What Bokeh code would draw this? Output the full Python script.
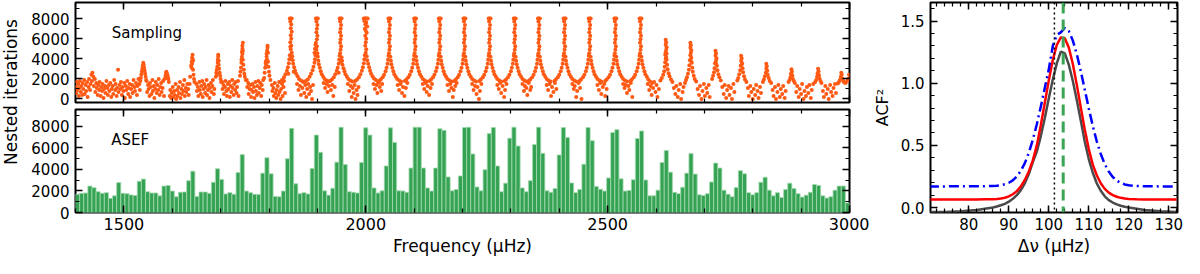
import numpy as np
from bokeh.plotting import figure
from bokeh.models import (Range1d, LinearAxis, SingleIntervalTicker, Label, Span,
                          PrintfTickFormatter, CustomJSTickFormatter)
from bokeh.layouts import row, column
from bokeh.embed import file_html
from bokeh.resources import INLINE

FONT = "DejaVu Sans"

# ---------------- data ----------------
freq_start, freq_end = 1400, 3000

# ASEF histogram (nested iterations per frequency bin), 188 bins 1400-3000 uHz
asef_iterations = [
    1690, 1780, 1810, 2450, 2300, 1930, 1780, 1840, 1310, 1550, 2770, 1780,
    1750, 1630, 1580, 2890, 3100, 1930, 1810, 1810, 1550, 2450, 2510, 1990,
    1460, 1870, 1900, 2950, 3830, 1490, 1900, 1900, 1780, 2800, 4060, 3070,
    1720, 1840, 1690, 3710, 5370, 1990, 1840, 1690, 1660, 3650, 5080, 3590,
    1490, 1460, 1990, 4990, 7800, 2660, 1750, 1840, 1720, 4090, 7180, 5580,
    2010, 1610, 2250, 4670, 7910, 4440, 1930, 1870, 1810, 4640, 7850, 7180,
    2280, 1810, 2010, 4320, 7850, 6500, 2010, 1990, 1870, 4120, 7910, 7910,
    4120, 2280, 1990, 4120, 7770, 7620, 3300, 2010, 2130, 3390, 7880, 7910,
    5430, 2370, 2010, 3970, 7330, 7880, 4320, 1930, 2720, 6890, 7910, 6160,
    2280, 1930, 2950, 6310, 7910, 5490, 2010, 1870, 2220, 5340, 7880, 6950,
    2740, 1840, 2130, 4470, 7880, 6660, 2420, 2160, 1990, 3210, 7420, 7680,
    3120, 1990, 2040, 3040, 6860, 7560, 3010, 1550, 1550, 2070, 4640, 5750,
    3740, 1870, 1750, 2340, 3650, 5460, 3560, 1640, 1580, 1750, 2830, 4580,
    4120, 2070, 1690, 1460, 2310, 3880, 3590, 1840, 1640, 1840, 2800, 3270,
    2070, 1550, 1840, 1400, 2130, 2720, 2220, 1750, 1430, 1610, 1870, 2600,
    2510, 1550, 1340, 1460, 2070, 2450, 2450, 880,
]

# Sampling: (frequency, nested iterations) points
samp_background = [
    (1401,1200),(1402,600),(1403,1700),(1404,900),(1406,1500),(1407,300),(1408,1100),(1409,1800),
    (1411,700),(1412,1300),(1414,400),(1415,1600),(1416,1000),(1418,1900),(1419,500),(1421,1400),
    (1422,800),(1424,1700),(1425,200),(1427,1200),(1428,2000),(1430,900),(1431,1500),(1433,2400),
    (1434,1800),(1435,2600),(1437,2200),(1438,1300),(1440,2000),(1441,700),(1443,1600),(1444,1100),
    (1446,400),(1447,1400),(1449,900),(1450,1700),(1452,300),(1453,1200),(1455,800),(1456,1500),
    (1458,100),(1459,1000),(1461,1300),(1462,600),(1464,1800),(1466,1100),(1467,400),(1469,1400),
    (1470,800),(1472,1600),(1474,200),(1475,1000),(1477,1300),(1478,500),(1480,1900),(1482,900),
    (1483,1500),(1485,300),(1486,1100),(1488,2900),(1489,700),(1491,1400),(1493,1000),(1494,1700),
    (1496,400),(1497,1200),(1499,800),(1501,1600),(1502,100),(1504,1300),(1505,900),(1507,1800),
    (1509,500),(1510,1100),(1512,1500),(1513,200),(1515,1000),(1517,1400),(1518,600),(1520,1900),
    (1522,1200),(1523,800),(1525,1600),(1527,400),(1528,1300),(1530,2000),(1532,1500),(1533,900),
    (1547,1800),(1548,700),(1550,1400),(1551,1000),(1553,300),(1554,1600),(1556,1200),(1557,500),
    (1559,1900),(1560,800),(1562,1300),(1563,100),(1565,1000),(1566,1700),(1568,600),(1569,1400),
    (1571,900),(1572,2000),(1574,400),(1575,1200),(1577,1600),(1578,700),(1580,1100),(1581,1800),
    (1583,300),(1595,300),(1596,900),(1598,100),(1599,600),(1601,1200),(1602,200),(1604,800),
    (1605,400),(1607,1500),(1608,0),(1610,900),(1611,300),(1613,1200),(1614,600),(1616,1700),
    (1617,100),(1619,1000),(1620,500),(1622,1400),(1623,800),(1625,1900),(1626,300),(1628,1100),
    (1629,700),(1631,1500),(1633,1000),(1634,400),(1650,1500),(1651,800),(1653,1200),(1654,300),
    (1656,1700),(1657,900),(1659,500),(1660,1300),(1662,1800),(1663,200),(1665,1000),(1666,1500),
    (1668,600),(1669,1200),(1671,1900),(1672,400),(1674,900),(1675,1400),(1677,100),(1678,1100),
    (1680,1600),(1681,700),(1683,1300),(1684,1900),(1686,500),(1687,1000),(1703,1700),(1704,1000),
    (1706,1400),(1707,500),(1709,1200),(1710,1800),(1712,800),(1713,300),(1715,1500),(1716,1000),
    (1718,1700),(1719,200),(1721,1300),(1722,700),(1724,1900),(1725,1100),(1727,400),(1728,1500),
    (1730,900),(1731,1700),(1733,600),(1734,1200),(1736,1800),(1737,300),(1754,1900),(1755,1200),
    (1757,1600),(1758,500),(1760,1000),(1761,1400),(1763,200),(1764,900),(1766,1500),(1767,700),
    (1769,1200),(1770,100),(1772,1700),(1773,800),(1775,400),(1776,1300),(1778,1800),(1779,600),
    (1781,1100),(1782,1600),(1784,300),(1785,1400),(1787,900),(1788,1900),(1806,1400),(1807,800),
    (1809,1100),(1810,300),(1812,1600),(1813,600),(1815,100),(1816,900),(1818,1300),(1819,400),
    (1821,1700),(1822,700),(1824,0),(1825,1000),(1827,1500),(1828,300),(1830,1200),(1831,1800),
    (1833,600),
]

samp_small_peaks = [
    (1536,2400),(1537,2700),(1538,3000),(1539,3300),(1540,3600),(1541,3400),(1542,3100),(1543,2800),
    (1544,2500),(1545,2200),(1535,2100),(1539,2800),(1541,2900),(1546,1900),(1534,1800),
    (1584,2000),(1586,2300),(1587,2600),(1588,2700),(1589,2500),(1590,2400),(1591,2200),(1592,2000),
    (1593,1700),(1589,2100),
    (1639,3300),(1640,3700),(1641,4100),(1642,4400),(1642,4000),(1641,3500),(1643,3800),(1640,3100),
    (1643,2900),(1644,2400),(1645,2000),(1637,2200),(1646,1700),(1636,1500),
    (1690,2200),(1691,2600),(1692,2900),(1693,3200),(1694,3600),(1694,3900),(1695,4200),(1695,4400),
    (1696,3800),(1696,3400),(1697,3000),(1698,2600),(1699,2300),(1700,2000),(1701,1700),(1692,2400),
    (1740,2300),(1741,2700),(1742,3100),(1743,3600),(1744,4200),(1744,4700),(1745,5000),(1745,5300),
    (1746,5600),(1745,4500),(1746,3900),(1747,3400),(1748,2900),(1749,2500),(1750,2200),(1752,1900),
    (1743,3900),(1746,4800),
    (1790,2100),(1791,2600),(1792,3100),(1793,3600),(1794,3800),(1795,4200),(1795,4500),(1796,4800),
    (1797,5100),(1797,5300),(1796,3900),(1798,4600),(1798,3700),(1799,3200),(1800,2700),(1801,2300),
    (1803,1900),(1794,3400),
]

samp_big_peaks = [
    # ~1846
    (1843,8000),(1845,8000),(1847,8000),(1844,7700),(1846,7400),(1845,7050),(1847,6700),(1845,6350),
    (1846,6000),(1844,5650),(1846,5300),(1845,4950),(1847,4600),(1848,4250),(1849,3850),(1850,3500),
    (1852,3150),(1854,2800),(1856,2500),(1859,2250),(1862,2000),(1866,1850),(1870,1750),(1843,4350),
    (1842,3950),(1841,3550),(1839,3150),(1837,2800),(1834,2450),(1831,2150),(1827,1900),(1823,1700),
    (1844,5200),(1846,4100),(1851,2700),(1840,2500),
    # ~1899
    (1897,8000),(1899,8000),(1901,8000),(1898,7700),(1900,7350),(1899,7000),(1898,6650),(1900,6300),
    (1899,5950),(1897,5600),(1899,5250),(1898,4900),(1900,4550),(1901,4200),(1902,3800),(1903,3450),
    (1905,3100),(1907,2750),(1909,2450),(1912,2200),(1915,2000),(1919,1850),(1923,1750),(1896,4350),
    (1895,3950),(1894,3600),(1892,3200),(1890,2850),(1887,2500),(1884,2200),(1880,1950),(1876,1800),
    (1895,5000),(1896,5400),(1894,4600),(1897,4400),
    # ~1948
    (1946,8000),(1948,8000),(1950,8000),(1947,7700),(1949,7350),(1948,7000),(1947,6650),(1949,6300),
    (1948,5950),(1947,5600),(1949,5250),(1948,4900),(1947,4550),(1950,4150),(1951,3800),(1952,3400),
    (1954,3050),(1956,2750),(1958,2450),(1961,2200),(1964,2000),(1968,1850),(1972,1750),(1946,4300),
    (1945,3900),(1944,3500),(1942,3100),(1940,2800),(1937,2450),(1934,2150),(1930,1950),(1926,1800),
    (1949,3700),(1944,2600),
    # ~2000
    (1996,8000),(1998,8000),(2000,8000),(2002,8000),(2004,8000),(1997,7750),(2001,7600),(1999,7400),
    (2003,7200),(1998,7000),(2000,6800),(2002,6600),(1999,6300),(2001,6000),(2000,5650),(1999,5300),
    (2001,4950),(2000,4600),(2002,4250),(2003,3850),(2005,3500),(2007,3150),(2009,2800),(2011,2500),
    (2014,2250),(2017,2050),(2021,1900),(2025,1750),(1998,4350),(1997,3950),(1996,3550),(1994,3150),
    (1992,2800),(1989,2450),(1986,2150),(1982,1950),(1978,1800),
    # ~2049
    (2047,8000),(2049,8000),(2051,8000),(2048,7700),(2050,7350),(2049,7000),(2048,6650),(2050,6300),
    (2049,5950),(2048,5600),(2050,5250),(2049,4900),(2048,4550),(2051,4200),(2052,3800),(2053,3450),
    (2055,3100),(2057,2750),(2059,2450),(2062,2200),(2065,2000),(2069,1850),(2073,1750),(2047,4300),
    (2046,3900),(2045,3500),(2043,3100),(2041,2750),(2038,2400),(2035,2150),(2031,1950),(2028,1800),
    # ~2102
    (2100,8000),(2102,8000),(2104,8000),(2101,7700),(2103,7350),(2102,7000),(2101,6650),(2103,6300),
    (2102,5950),(2101,5600),(2103,5250),(2102,4900),(2101,4550),(2104,4200),(2105,3800),(2106,3450),
    (2108,3100),(2110,2750),(2112,2450),(2115,2200),(2118,2000),(2122,1850),(2126,1750),(2100,4300),
    (2099,3900),(2098,3500),(2096,3100),(2094,2750),(2091,2400),(2088,2150),(2084,1950),(2081,1800),
    # ~2153
    (2151,8000),(2153,8000),(2155,8000),(2152,7700),(2154,7350),(2153,7000),(2152,6650),(2154,6300),
    (2153,5950),(2152,5600),(2154,5250),(2153,4900),(2152,4550),(2155,4200),(2156,3800),(2157,3450),
    (2159,3100),(2161,2750),(2163,2450),(2166,2200),(2169,2000),(2173,1850),(2177,1750),(2151,4300),
    (2150,3900),(2149,3500),(2147,3100),(2145,2750),(2142,2400),(2139,2150),(2135,1950),(2132,1800),
    # ~2204
    (2202,8000),(2204,8000),(2206,8000),(2203,7700),(2205,7350),(2204,7000),(2203,6650),(2205,6300),
    (2204,5950),(2203,5600),(2205,5250),(2204,4900),(2203,4550),(2206,4200),(2207,3800),(2208,3450),
    (2210,3100),(2212,2750),(2214,2450),(2217,2200),(2220,2000),(2224,1850),(2228,1750),(2202,4300),
    (2201,3900),(2200,3500),(2198,3100),(2196,2750),(2193,2400),(2190,2150),(2186,1950),(2183,1800),
    # ~2256
    (2254,8000),(2256,8000),(2258,8000),(2255,7700),(2257,7350),(2256,7000),(2255,6650),(2257,6300),
    (2256,5950),(2255,5600),(2257,5250),(2256,4900),(2255,4550),(2258,4200),(2259,3800),(2260,3450),
    (2262,3100),(2264,2750),(2266,2450),(2269,2200),(2272,2000),(2276,1850),(2280,1750),(2254,4300),
    (2253,3900),(2252,3500),(2250,3100),(2248,2750),(2245,2400),(2242,2150),(2238,1950),(2235,1800),
    # ~2308
    (2306,8000),(2308,8000),(2310,8000),(2307,7700),(2309,7350),(2308,7000),(2307,6650),(2309,6300),
    (2308,5950),(2307,5600),(2309,5250),(2308,4900),(2307,4550),(2310,4200),(2311,3800),(2312,3450),
    (2314,3100),(2316,2750),(2318,2450),(2321,2200),(2324,2000),(2328,1850),(2332,1750),(2306,4300),
    (2305,3900),(2304,3500),(2302,3100),(2300,2750),(2297,2400),(2294,2150),(2290,1950),(2287,1800),
    # ~2358
    (2356,8000),(2358,8000),(2360,8000),(2357,7700),(2359,7350),(2358,7000),(2357,6650),(2359,6300),
    (2358,5950),(2357,5600),(2359,5250),(2358,4900),(2357,4550),(2360,4200),(2361,3800),(2362,3450),
    (2364,3100),(2366,2750),(2368,2450),(2371,2200),(2374,2000),(2378,1850),(2382,1750),(2356,4300),
    (2355,3900),(2354,3500),(2352,3100),(2350,2750),(2347,2400),(2344,2150),(2340,1950),(2337,1800),
    # ~2411
    (2409,8000),(2411,8000),(2413,8000),(2410,7700),(2412,7350),(2411,7000),(2410,6650),(2412,6300),
    (2411,5950),(2410,5600),(2412,5250),(2411,4900),(2410,4550),(2413,4200),(2414,3800),(2415,3450),
    (2417,3100),(2419,2750),(2421,2450),(2424,2200),(2427,2000),(2431,1850),(2435,1750),(2409,4300),
    (2408,3900),(2407,3500),(2405,3100),(2403,2750),(2400,2400),(2397,2150),(2393,1950),(2390,1800),
    # ~2463
    (2461,8000),(2463,8000),(2465,8000),(2462,7700),(2464,7350),(2463,7000),(2462,6650),(2464,6300),
    (2463,5950),(2462,5600),(2464,5250),(2463,4900),(2462,4550),(2465,4200),(2466,3800),(2467,3450),
    (2469,3100),(2471,2750),(2473,2450),(2476,2200),(2479,2000),(2483,1850),(2487,1750),(2461,4300),
    (2460,3900),(2459,3500),(2457,3100),(2455,2750),(2452,2400),(2449,2150),(2445,1950),(2442,1800),
    # ~2516
    (2514,8000),(2516,8000),(2518,8000),(2515,7700),(2517,7350),(2516,7000),(2515,6650),(2517,6300),
    (2516,5950),(2515,5600),(2517,5250),(2516,4900),(2515,4550),(2518,4200),(2519,3800),(2520,3450),
    (2522,3100),(2524,2750),(2526,2450),(2529,2200),(2532,2000),(2536,1850),(2540,1750),(2514,4300),
    (2513,3900),(2512,3500),(2510,3100),(2508,2750),(2505,2400),(2502,2150),(2498,1950),(2495,1800),
    # ~2568
    (2566,8000),(2568,8000),(2570,8000),(2567,7700),(2569,7350),(2568,7000),(2567,6650),(2569,6300),
    (2568,5950),(2567,5600),(2569,5250),(2568,4900),(2567,4550),(2570,4200),(2571,3800),(2572,3450),
    (2574,3100),(2576,2750),(2578,2450),(2581,2200),(2584,1950),(2588,1750),(2592,1600),(2566,4300),
    (2565,3900),(2564,3500),(2562,3100),(2560,2750),(2557,2400),(2554,2150),(2550,1950),(2547,1800),
]

samp_troughs = [
    (1858,1500),(1861,900),(1864,1300),(1866,400),(1869,1100),(1871,1700),(1873,600),(1875,1400),
    (1877,200),(1879,1000),(1881,1500),(1883,500),(1885,1200),(1887,800),(1889,0),(1891,1400),
    (1913,1600),(1916,1100),(1919,1500),(1921,700),(1924,1300),(1926,1800),(1928,900),(1931,1400),
    (1933,300),(1936,1200),
    (1963,1500),(1966,800),(1969,1300),(1971,200),(1973,1100),(1975,600),(1977,1400),(1979,0),
    (1981,900),(1983,400),(1985,1200),
    (2016,1500),(2019,1000),(2022,1400),(2024,600),(2027,1600),(2029,1200),(2032,800),(2034,1500),
    (2066,1400),(2069,900),(2072,1500),(2075,600),(2077,1200),(2080,300),(2083,1100),(2086,1600),
    (2118,1500),(2121,1000),(2124,1600),(2126,700),(2128,1300),(2131,400),(2134,1100),(2137,1500),
    (2169,1400),(2172,800),(2175,1500),(2177,1100),(2180,200),(2182,900),(2185,1300),(2188,1600),
    (2220,1500),(2223,900),(2226,1300),(2229,500),(2231,1200),(2234,0),(2236,800),(2239,1500),
    (2272,1400),(2275,1000),(2278,1600),(2280,600),(2283,1300),(2286,200),(2288,900),(2291,1500),
    (2324,1500),(2327,800),(2329,1300),(2332,1100),(2334,400),(2337,1600),(2340,900),(2342,1200),
    (2374,1400),(2377,900),(2380,1500),(2383,300),(2385,1200),(2388,700),(2391,1600),(2394,1000),
    (2427,1500),(2430,1000),(2432,1300),(2435,200),(2437,800),(2440,1600),(2443,1100),(2446,0),
    (2479,1400),(2482,900),(2485,1600),(2487,500),(2490,1200),(2493,1500),(2495,300),(2498,1000),
    (2532,1500),(2535,1100),(2537,1400),(2540,600),(2543,1300),(2545,900),(2548,1600),(2551,200),
]

samp_high = [
    (2583,1500),(2586,900),(2589,1300),(2591,400),(2594,1100),(2596,1700),(2599,700),(2601,1400),
    (2603,200),(2606,1000),
    (2620,5900),(2621,5650),(2620,5400),(2622,5150),(2621,4900),(2620,4650),(2619,4400),(2621,4150),
    (2622,3900),(2619,3650),(2623,3400),(2618,3200),(2624,2950),(2617,2750),(2626,2550),(2615,2400),
    (2628,2250),(2612,2100),(2631,1950),(2609,1850),(2634,1700),(2620,4000),(2622,4500),
    (2637,1100),(2640,500),(2642,1300),(2645,200),(2647,900),(2650,1500),(2652,0),(2655,700),
    (2657,1200),(2660,1600),
    (2671,5600),(2672,5350),(2671,5100),(2673,4850),(2672,4600),(2671,4350),(2673,4100),(2670,3850),
    (2674,3600),(2669,3350),(2675,3100),(2668,2900),(2676,2700),(2666,2500),(2678,2300),(2664,2150),
    (2680,2000),(2662,1900),(2683,1750),(2672,3800),
    (2686,1000),(2689,400),(2691,1300),(2694,0),(2696,800),(2699,1500),(2701,300),(2704,1100),
    (2706,600),(2709,1400),(2711,200),
    (2723,4800),(2724,4550),(2723,4300),(2725,4050),(2724,3800),(2722,3550),(2726,3300),(2721,3050),
    (2727,2850),(2720,2650),(2729,2450),(2718,2300),(2731,2150),(2716,2000),(2734,1850),(2724,3500),
    (2737,1200),(2740,500),(2742,1400),(2745,100),(2747,900),(2750,1300),(2752,400),(2755,1100),
    (2757,0),(2760,1500),(2762,700),
    (2776,4300),(2777,4050),(2776,3800),(2778,3550),(2775,3300),(2779,3050),(2774,2850),(2780,2650),
    (2772,2450),(2782,2250),(2770,2100),(2784,1950),(2768,1850),(2787,1700),(2777,3400),
    (2790,1100),(2792,300),(2795,1300),(2797,700),(2800,0),(2802,1000),(2805,400),(2807,1400),
    (2810,800),(2812,100),(2815,1200),(2817,600),
    (2828,3500),(2829,3250),(2828,3000),(2830,2800),(2827,2600),(2831,2400),(2825,2250),(2833,2100),
    (2823,1950),(2835,1800),(2821,1700),(2838,1600),
    (2841,900),(2843,300),(2846,1200),(2848,0),(2851,700),(2853,1400),(2856,200),(2858,1000),
    (2861,500),(2863,1300),(2866,100),(2868,800),
    (2880,2950),(2881,2700),(2879,2500),(2882,2300),(2878,2150),(2883,2000),(2876,1900),(2885,1800),
    (2874,1700),(2887,1600),(2880,2400),
    (2890,700),(2892,1300),(2895,200),(2897,1000),(2900,500),(2902,1500),(2905,0),(2907,800),
    (2910,300),(2912,1200),(2915,600),(2917,1400),(2920,100),(2922,900),(2925,1500),
    (2935,3000),(2936,2750),(2934,2550),(2937,2350),(2933,2200),(2938,2050),(2931,1900),(2940,1800),
    (2929,1700),(2942,1600),
    (2945,800),(2947,200),(2950,1300),(2952,500),(2955,1000),(2957,0),(2960,1400),(2962,700),
    (2965,300),(2967,1100),(2970,1500),(2972,600),
    (2983,2600),(2984,2400),(2982,2200),(2985,2050),(2980,1900),(2987,1800),(2978,1700),(2989,1650),
    (2976,1550),(2992,1600),(2995,1800),(2997,2000),(2999,2400),
]

# ACF^2 vs large separation
dnu = [70, 74, 78, 82, 84, 86, 87, 88, 89, 90, 91, 92, 93, 94, 95, 96, 97, 98, 99, 100,
       101, 102, 103, 104, 105, 106, 107, 108, 109, 110, 111, 112, 113, 114, 115, 116,
       117, 118, 119, 120, 122, 124, 128, 132]
acf_grey = [-0.035, -0.035, -0.03, -0.02, -0.01, 0.0, 0.008, 0.018, 0.03, 0.047, 0.07, 0.10,
            0.14, 0.195, 0.27, 0.365, 0.45, 0.575, 0.72, 0.88, 1.03, 1.16, 1.255, 1.24, 1.15,
            1.02, 0.865, 0.70, 0.53, 0.39, 0.28, 0.195, 0.135, 0.09, 0.06, 0.04, 0.025, 0.014,
            0.006, 0.0, -0.01, -0.02, -0.03, -0.035]
acf_red = [0.065, 0.065, 0.065, 0.065, 0.066, 0.067, 0.069, 0.072, 0.079, 0.09, 0.107, 0.132,
           0.17, 0.222, 0.29, 0.38, 0.50, 0.662, 0.843, 1.025, 1.187, 1.308, 1.369, 1.362,
           1.288, 1.157, 0.989, 0.806, 0.628, 0.471, 0.345, 0.26, 0.195, 0.15, 0.12, 0.10,
           0.087, 0.078, 0.072, 0.069, 0.066, 0.065, 0.065, 0.065]
acf_blue = [0.17, 0.17, 0.171, 0.171, 0.172, 0.174, 0.176, 0.18, 0.187, 0.199, 0.219, 0.25,
            0.295, 0.357, 0.44, 0.545, 0.67, 0.812, 0.963, 1.112, 1.30, 1.39, 1.41, 1.445,
            1.42, 1.345, 1.235, 1.098, 0.948, 0.797, 0.657, 0.533, 0.431, 0.35, 0.29, 0.246,
            0.217, 0.198, 0.186, 0.179, 0.173, 0.171, 0.17, 0.17]
dnu_dotted = 101.4
dnu_dashed = 103.6

# ---------------- helpers ----------------
def style_fig(p):
    p.xgrid.visible = False
    p.ygrid.visible = False
    p.outline_line_color = "black"
    p.outline_line_width = 2
    p.outline_line_alpha = 1
    p.background_fill_color = "white"
    p.border_fill_color = "white"


def setup_axis(ax, interval, nminor, labels=True, fmt=None, size="15px"):
    ax.ticker = SingleIntervalTicker(interval=interval, num_minor_ticks=nminor)
    ax.major_tick_in = 7
    ax.major_tick_out = 0
    ax.minor_tick_in = 4
    ax.minor_tick_out = 0
    ax.major_tick_line_color = "black"
    ax.minor_tick_line_color = "black"
    ax.major_tick_line_width = 1.5
    ax.minor_tick_line_width = 1.2
    ax.axis_line_color = None
    if labels:
        ax.major_label_text_font = FONT
        ax.major_label_text_font_size = size
        ax.major_label_text_color = "black"
        ax.major_label_standoff = 6
        if fmt is not None:
            ax.formatter = fmt
    else:
        ax.formatter = CustomJSTickFormatter(code="return '';")
        ax.major_label_text_font_size = "0px"
        ax.major_label_standoff = 0


def mirror_axes(p, xint, xminor, yint, yminor):
    top = LinearAxis()
    setup_axis(top, xint, xminor, labels=False)
    p.add_layout(top, "above")
    right = LinearAxis()
    setup_axis(right, yint, yminor, labels=False)
    p.add_layout(right, "right")


def axis_title(ax, text, standoff, size="16px"):
    ax.axis_label = text
    ax.axis_label_text_font = FONT
    ax.axis_label_text_font_size = size
    ax.axis_label_text_font_style = "normal"
    ax.axis_label_text_color = "black"
    ax.axis_label_standoff = standoff


# ---------------- y-label strip ----------------
pL = figure(width=22, height=258, x_range=Range1d(0, 22), y_range=Range1d(0, 258),
            toolbar_location=None, output_backend="svg", min_border=0,
            x_axis_location=None, y_axis_location=None)
pL.xgrid.visible = False
pL.ygrid.visible = False
pL.outline_line_color = None
pL.add_layout(Label(x=10, y=148, text="Nested iterations", angle=90, angle_units="deg",
                    text_align="center", text_baseline="middle", text_font=FONT,
                    text_font_size="17px", text_color="black"))

# ---------------- top: Sampling ----------------
pA = figure(width=847, height=108, x_range=Range1d(freq_start, freq_end),
            y_range=Range1d(-350, 9600), toolbar_location=None, output_backend="svg",
            min_border_left=53, min_border_right=20, min_border_top=2, min_border_bottom=6)
style_fig(pA)
setup_axis(pA.xaxis[0], 500, 5, labels=False)
setup_axis(pA.yaxis[0], 2000, 2, labels=True)
mirror_axes(pA, 500, 5, 2000, 2)

samp_all = samp_background + samp_small_peaks + samp_big_peaks + samp_troughs + samp_high
samp_f = [s[0] for s in samp_all]
samp_n = [s[1] for s in samp_all]
pA.scatter(samp_f, samp_n, marker="circle", size=4.0, fill_color="#ff5a14",
           line_color=None)
pA.add_layout(Label(x=1475, y=6550, text="Sampling", text_font=FONT, text_font_size="15px",
                    text_baseline="middle", text_align="left", text_color="black"))

# ---------------- bottom: ASEF ----------------
pB = figure(width=847, height=150, x_range=pA.x_range, y_range=Range1d(0, 9550),
            toolbar_location=None, output_backend="svg",
            min_border_left=53, min_border_right=20, min_border_top=1, min_border_bottom=46)
style_fig(pB)
setup_axis(pB.xaxis[0], 500, 5, labels=True, size="16px")
pB.xaxis[0].major_label_standoff = 5
axis_title(pB.xaxis[0], "Frequency (μHz)", 3, size="17px")
setup_axis(pB.yaxis[0], 2000, 2, labels=True)
mirror_axes(pB, 500, 5, 2000, 2)

nbins = len(asef_iterations)
bin_w = (freq_end - freq_start) / nbins
bin_centers = freq_start + bin_w * (np.arange(nbins) + 0.5)
pB.vbar(x=bin_centers, top=asef_iterations, bottom=0, width=bin_w,
        fill_color="#36a354", line_color="#a3dbb0", line_width=0.8)
pB.add_layout(Label(x=1474, y=6690, text="ASEF", text_font=FONT, text_font_size="15px",
                    text_baseline="middle", text_align="left", text_color="black"))

# ---------------- right: ACF^2 ----------------
pC = figure(width=315, height=258, x_range=Range1d(70.4, 132.2), y_range=Range1d(-0.04, 1.65),
            toolbar_location=None, output_backend="svg",
            min_border_left=57, min_border_right=7, min_border_top=2, min_border_bottom=46)
style_fig(pC)
setup_axis(pC.xaxis[0], 10, 5, labels=True)
pC.xaxis[0].major_label_standoff = 5
axis_title(pC.xaxis[0], "Δν (μHz)", 3, size="17px")
setup_axis(pC.yaxis[0], 0.5, 5, labels=True, fmt=PrintfTickFormatter(format="%.1f"))
axis_title(pC.yaxis[0], "ACF²", 6)
mirror_axes(pC, 10, 5, 0.5, 5)

pC.line(dnu, acf_grey, line_color="#4a4a4a", line_width=2.5)
pC.line(dnu, acf_red, line_color="#ff0000", line_width=2.5)
pC.line(dnu, acf_blue, line_color="#0000ff", line_width=2.5, line_dash="10 4 2 4")
pC.add_layout(Span(location=dnu_dotted, dimension="height", line_color="black",
                   line_width=1.5, line_dash="2 3"))
pC.add_layout(Span(location=dnu_dashed, dimension="height", line_color="#3aa655",
                   line_width=3, line_dash="11 6"))

layout = row(pL, column(pA, pB), pC)
open("out.html", "w").write(file_html(layout, INLINE))
